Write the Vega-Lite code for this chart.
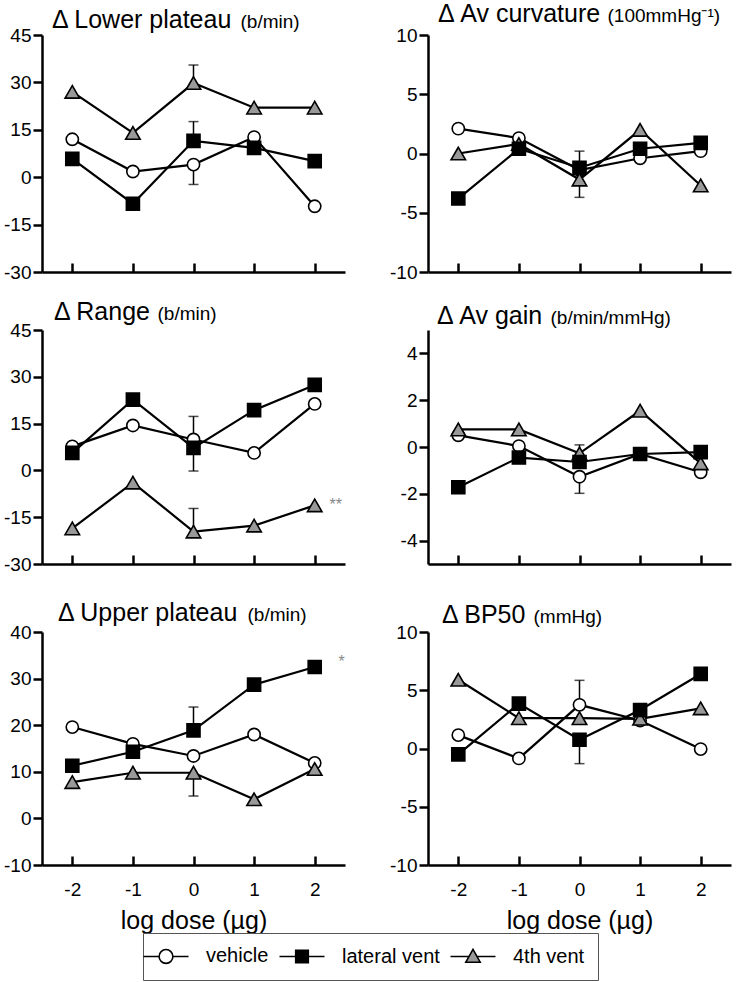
{
  "$schema": "https://vega.github.io/schema/vega-lite/v6.json",
  "padding": {"left": 3, "top": 2, "right": 5, "bottom": 0},
  "datasets": {
    "pts": [
      {"panel": "lower", "group": "vehicle", "dose": -2, "value": 12},
      {"panel": "lower", "group": "vehicle", "dose": -1, "value": 1.8},
      {"panel": "lower", "group": "vehicle", "dose": 0, "value": 4},
      {"panel": "lower", "group": "vehicle", "dose": 1, "value": 12.7},
      {"panel": "lower", "group": "vehicle", "dose": 2, "value": -9.2},
      {"panel": "lower", "group": "4th vent", "dose": -2, "value": 27},
      {"panel": "lower", "group": "4th vent", "dose": -1, "value": 14},
      {"panel": "lower", "group": "4th vent", "dose": 0, "value": 29.8},
      {"panel": "lower", "group": "4th vent", "dose": 1, "value": 22},
      {"panel": "lower", "group": "4th vent", "dose": 2, "value": 22},
      {"panel": "lower", "group": "lateral vent", "dose": -2, "value": 5.8},
      {"panel": "lower", "group": "lateral vent", "dose": -1, "value": -8.4},
      {"panel": "lower", "group": "lateral vent", "dose": 0, "value": 11.5},
      {"panel": "lower", "group": "lateral vent", "dose": 1, "value": 9.3},
      {"panel": "lower", "group": "lateral vent", "dose": 2, "value": 5.1},

      {"panel": "curv", "group": "vehicle", "dose": -2, "value": 2.1},
      {"panel": "curv", "group": "vehicle", "dose": -1, "value": 1.3},
      {"panel": "curv", "group": "vehicle", "dose": 0, "value": -1.4},
      {"panel": "curv", "group": "vehicle", "dose": 1, "value": -0.4},
      {"panel": "curv", "group": "vehicle", "dose": 2, "value": 0.2},
      {"panel": "curv", "group": "4th vent", "dose": -2, "value": 0},
      {"panel": "curv", "group": "4th vent", "dose": -1, "value": 0.8},
      {"panel": "curv", "group": "4th vent", "dose": 0, "value": -2.2},
      {"panel": "curv", "group": "4th vent", "dose": 1, "value": 2.0},
      {"panel": "curv", "group": "4th vent", "dose": 2, "value": -2.7},
      {"panel": "curv", "group": "lateral vent", "dose": -2, "value": -3.8},
      {"panel": "curv", "group": "lateral vent", "dose": -1, "value": 0.4},
      {"panel": "curv", "group": "lateral vent", "dose": 0, "value": -1.2},
      {"panel": "curv", "group": "lateral vent", "dose": 1, "value": 0.4},
      {"panel": "curv", "group": "lateral vent", "dose": 2, "value": 0.9},

      {"panel": "range", "group": "vehicle", "dose": -2, "value": 7.7},
      {"panel": "range", "group": "vehicle", "dose": -1, "value": 14.4},
      {"panel": "range", "group": "vehicle", "dose": 0, "value": 9.9},
      {"panel": "range", "group": "vehicle", "dose": 1, "value": 5.6},
      {"panel": "range", "group": "vehicle", "dose": 2, "value": 21.3},
      {"panel": "range", "group": "4th vent", "dose": -2, "value": -18.6},
      {"panel": "range", "group": "4th vent", "dose": -1, "value": -3.9},
      {"panel": "range", "group": "4th vent", "dose": 0, "value": -19.6},
      {"panel": "range", "group": "4th vent", "dose": 1, "value": -17.7},
      {"panel": "range", "group": "4th vent", "dose": 2, "value": -11.2},
      {"panel": "range", "group": "lateral vent", "dose": -2, "value": 5.6},
      {"panel": "range", "group": "lateral vent", "dose": -1, "value": 22.7},
      {"panel": "range", "group": "lateral vent", "dose": 0, "value": 7.2},
      {"panel": "range", "group": "lateral vent", "dose": 1, "value": 19.3},
      {"panel": "range", "group": "lateral vent", "dose": 2, "value": 27.4},

      {"panel": "gain", "group": "vehicle", "dose": -2, "value": 0.5},
      {"panel": "gain", "group": "vehicle", "dose": -1, "value": 0.04},
      {"panel": "gain", "group": "vehicle", "dose": 0, "value": -1.27},
      {"panel": "gain", "group": "vehicle", "dose": 1, "value": -0.3},
      {"panel": "gain", "group": "vehicle", "dose": 2, "value": -1.08},
      {"panel": "gain", "group": "4th vent", "dose": -2, "value": 0.75},
      {"panel": "gain", "group": "4th vent", "dose": -1, "value": 0.75},
      {"panel": "gain", "group": "4th vent", "dose": 0, "value": -0.27},
      {"panel": "gain", "group": "4th vent", "dose": 1, "value": 1.55},
      {"panel": "gain", "group": "4th vent", "dose": 2, "value": -0.7},
      {"panel": "gain", "group": "lateral vent", "dose": -2, "value": -1.72},
      {"panel": "gain", "group": "lateral vent", "dose": -1, "value": -0.45},
      {"panel": "gain", "group": "lateral vent", "dose": 0, "value": -0.64},
      {"panel": "gain", "group": "lateral vent", "dose": 1, "value": -0.3},
      {"panel": "gain", "group": "lateral vent", "dose": 2, "value": -0.22},

      {"panel": "upper", "group": "vehicle", "dose": -2, "value": 19.6},
      {"panel": "upper", "group": "vehicle", "dose": -1, "value": 16.0},
      {"panel": "upper", "group": "vehicle", "dose": 0, "value": 13.4},
      {"panel": "upper", "group": "vehicle", "dose": 1, "value": 18.0},
      {"panel": "upper", "group": "vehicle", "dose": 2, "value": 11.9},
      {"panel": "upper", "group": "4th vent", "dose": -2, "value": 7.8},
      {"panel": "upper", "group": "4th vent", "dose": -1, "value": 9.8},
      {"panel": "upper", "group": "4th vent", "dose": 0, "value": 9.8},
      {"panel": "upper", "group": "4th vent", "dose": 1, "value": 4.1},
      {"panel": "upper", "group": "4th vent", "dose": 2, "value": 10.6},
      {"panel": "upper", "group": "lateral vent", "dose": -2, "value": 11.3},
      {"panel": "upper", "group": "lateral vent", "dose": -1, "value": 14.3},
      {"panel": "upper", "group": "lateral vent", "dose": 0, "value": 18.9},
      {"panel": "upper", "group": "lateral vent", "dose": 1, "value": 28.7},
      {"panel": "upper", "group": "lateral vent", "dose": 2, "value": 32.5},

      {"panel": "bp50", "group": "vehicle", "dose": -2, "value": 1.15},
      {"panel": "bp50", "group": "vehicle", "dose": -1, "value": -0.85},
      {"panel": "bp50", "group": "vehicle", "dose": 0, "value": 3.75},
      {"panel": "bp50", "group": "vehicle", "dose": 1, "value": 2.4},
      {"panel": "bp50", "group": "vehicle", "dose": 2, "value": -0.05},
      {"panel": "bp50", "group": "4th vent", "dose": -2, "value": 5.9},
      {"panel": "bp50", "group": "4th vent", "dose": -1, "value": 2.6},
      {"panel": "bp50", "group": "4th vent", "dose": 0, "value": 2.6},
      {"panel": "bp50", "group": "4th vent", "dose": 1, "value": 2.55},
      {"panel": "bp50", "group": "4th vent", "dose": 2, "value": 3.45},
      {"panel": "bp50", "group": "lateral vent", "dose": -2, "value": -0.5},
      {"panel": "bp50", "group": "lateral vent", "dose": -1, "value": 3.85},
      {"panel": "bp50", "group": "lateral vent", "dose": 0, "value": 0.75},
      {"panel": "bp50", "group": "lateral vent", "dose": 1, "value": 3.3},
      {"panel": "bp50", "group": "lateral vent", "dose": 2, "value": 6.4}
    ],
    "err": [
      {"panel": "lower", "group": "lateral vent", "dose": 0, "value": 11.5, "end": 17.6},
      {"panel": "lower", "group": "4th vent", "dose": 0, "value": 29.8, "end": 35.5},
      {"panel": "lower", "group": "vehicle", "dose": 0, "value": 4, "end": -2.3},
      {"panel": "curv", "group": "lateral vent", "dose": 0, "value": -1.2, "end": 0.2},
      {"panel": "curv", "group": "4th vent", "dose": 0, "value": -2.2, "end": -3.7},
      {"panel": "range", "group": "vehicle", "dose": 0, "value": 9.9, "end": 17.3},
      {"panel": "range", "group": "lateral vent", "dose": 0, "value": 7.2, "end": -0.2},
      {"panel": "range", "group": "4th vent", "dose": 0, "value": -19.6, "end": -12.2},
      {"panel": "gain", "group": "4th vent", "dose": 0, "value": -0.27, "end": 0.09},
      {"panel": "gain", "group": "vehicle", "dose": 0, "value": -1.27, "end": -1.98},
      {"panel": "upper", "group": "lateral vent", "dose": 0, "value": 18.9, "end": 23.9},
      {"panel": "upper", "group": "4th vent", "dose": 0, "value": 9.8, "end": 4.8},
      {"panel": "bp50", "group": "vehicle", "dose": 0, "value": 3.75, "end": 5.85},
      {"panel": "bp50", "group": "lateral vent", "dose": 0, "value": 0.75, "end": -1.3}
    ],
    "ann": [
      {"panel": "range", "dose": 2, "value": -11.2, "label": "**"},
      {"panel": "upper", "dose": 2, "value": 32.5, "label": "*"}
    ]
  },
  "spacing": 27,
  "vconcat": [
    {
      "columns": 2,
      "spacing": {"row": 58, "column": 83},
      "bounds": "flush",
      "concat": [
        {
          "width": 303, "height": 237,
          "title": {"text": "Δ Lower plateau", "dx": 10},
          "encoding": {
            "x": {"field": "dose", "type": "quantitative", "scale": {"domain": [-2.5, 2.5], "nice": false}, "axis": {"values": [-2, -1, 0, 1, 2], "labels": false, "title": null}},
            "y": {"field": "value", "type": "quantitative", "scale": {"domain": [-30, 45], "nice": false, "zero": false}, "axis": {"values": [-30, -15, 0, 15, 30, 45], "labelExpr": "'' + datum.value", "title": "(b/min)", "titleX": 198, "titleY": -8}}
          },
          "layer": [
            {"data": {"name": "err"}, "transform": [{"filter": "datum.panel === 'lower'"}], "mark": {"type": "rule", "color": "black", "strokeWidth": 1.5}, "encoding": {"y2": {"field": "end"}}},
            {"data": {"name": "err"}, "transform": [{"filter": "datum.panel === 'lower'"}], "mark": {"type": "tick", "color": "black", "thickness": 1.5, "size": 10, "orient": "horizontal"}, "encoding": {"y": {"field": "end", "type": "quantitative", "scale": {"domain": [-30, 45], "nice": false, "zero": false}}}},
            {"data": {"name": "pts"}, "transform": [{"filter": "datum.panel === 'lower'"}], "mark": {"type": "line", "color": "black", "strokeWidth": 2.2}, "encoding": {"detail": {"field": "group", "type": "nominal"}}},
            {"data": {"name": "pts"}, "transform": [{"filter": "datum.panel === 'lower'"}], "mark": {"type": "point", "filled": true, "stroke": "black", "strokeWidth": 1.6, "opacity": 1},
              "encoding": {
                "shape": {"condition": [{"test": "datum.group === 'vehicle'", "value": "circle"}, {"test": "datum.group === 'lateral vent'", "value": "square"}], "value": "triangle-up"},
                "fill": {"condition": [{"test": "datum.group === 'vehicle'", "value": "white"}, {"test": "datum.group === 'lateral vent'", "value": "black"}], "value": "#999999"},
                "size": {"condition": [{"test": "datum.group === 'vehicle'", "value": 150}, {"test": "datum.group === 'lateral vent'", "value": 170}], "value": 210}
              }}
          ]
        },
        {
          "width": 303, "height": 237,
          "title": {"text": "Δ Av curvature", "dx": 10},
          "encoding": {
            "x": {"field": "dose", "type": "quantitative", "scale": {"domain": [-2.5, 2.5], "nice": false}, "axis": {"values": [-2, -1, 0, 1, 2], "labels": false, "title": null}},
            "y": {"field": "value", "type": "quantitative", "scale": {"domain": [-10, 10], "nice": false, "zero": false}, "axis": {"values": [-10, -5, 0, 5, 10], "labelExpr": "'' + datum.value", "title": "(100mmHg⁻¹)", "titleX": 179, "titleY": -14}}
          },
          "layer": [
            {"data": {"name": "err"}, "transform": [{"filter": "datum.panel === 'curv'"}], "mark": {"type": "rule", "color": "black", "strokeWidth": 1.5}, "encoding": {"y2": {"field": "end"}}},
            {"data": {"name": "err"}, "transform": [{"filter": "datum.panel === 'curv'"}], "mark": {"type": "tick", "color": "black", "thickness": 1.5, "size": 10, "orient": "horizontal"}, "encoding": {"y": {"field": "end", "type": "quantitative", "scale": {"domain": [-10, 10], "nice": false, "zero": false}}}},
            {"data": {"name": "pts"}, "transform": [{"filter": "datum.panel === 'curv'"}], "mark": {"type": "line", "color": "black", "strokeWidth": 2.2}, "encoding": {"detail": {"field": "group", "type": "nominal"}}},
            {"data": {"name": "pts"}, "transform": [{"filter": "datum.panel === 'curv'"}], "mark": {"type": "point", "filled": true, "stroke": "black", "strokeWidth": 1.6, "opacity": 1},
              "encoding": {
                "shape": {"condition": [{"test": "datum.group === 'vehicle'", "value": "circle"}, {"test": "datum.group === 'lateral vent'", "value": "square"}], "value": "triangle-up"},
                "fill": {"condition": [{"test": "datum.group === 'vehicle'", "value": "white"}, {"test": "datum.group === 'lateral vent'", "value": "black"}], "value": "#999999"},
                "size": {"condition": [{"test": "datum.group === 'vehicle'", "value": 150}, {"test": "datum.group === 'lateral vent'", "value": 170}], "value": 210}
              }}
          ]
        },
        {
          "width": 303, "height": 234,
          "title": {"text": "Δ Range", "dx": 12},
          "encoding": {
            "x": {"field": "dose", "type": "quantitative", "scale": {"domain": [-2.5, 2.5], "nice": false}, "axis": {"values": [-2, -1, 0, 1, 2], "labels": false, "title": null}},
            "y": {"field": "value", "type": "quantitative", "scale": {"domain": [-30, 45], "nice": false, "zero": false}, "axis": {"values": [-30, -15, 0, 15, 30, 45], "labelExpr": "'' + datum.value", "title": "(b/min)", "titleX": 115, "titleY": -11}}
          },
          "layer": [
            {"data": {"name": "err"}, "transform": [{"filter": "datum.panel === 'range'"}], "mark": {"type": "rule", "color": "black", "strokeWidth": 1.5}, "encoding": {"y2": {"field": "end"}}},
            {"data": {"name": "err"}, "transform": [{"filter": "datum.panel === 'range'"}], "mark": {"type": "tick", "color": "black", "thickness": 1.5, "size": 10, "orient": "horizontal"}, "encoding": {"y": {"field": "end", "type": "quantitative", "scale": {"domain": [-30, 45], "nice": false, "zero": false}}}},
            {"data": {"name": "pts"}, "transform": [{"filter": "datum.panel === 'range'"}], "mark": {"type": "line", "color": "black", "strokeWidth": 2.2}, "encoding": {"detail": {"field": "group", "type": "nominal"}}},
            {"data": {"name": "pts"}, "transform": [{"filter": "datum.panel === 'range'"}], "mark": {"type": "point", "filled": true, "stroke": "black", "strokeWidth": 1.6, "opacity": 1},
              "encoding": {
                "shape": {"condition": [{"test": "datum.group === 'vehicle'", "value": "circle"}, {"test": "datum.group === 'lateral vent'", "value": "square"}], "value": "triangle-up"},
                "fill": {"condition": [{"test": "datum.group === 'vehicle'", "value": "white"}, {"test": "datum.group === 'lateral vent'", "value": "black"}], "value": "#999999"},
                "size": {"condition": [{"test": "datum.group === 'vehicle'", "value": 150}, {"test": "datum.group === 'lateral vent'", "value": 170}], "value": 210}
              }},
            {"data": {"name": "ann"}, "transform": [{"filter": "datum.panel === 'range'"}], "mark": {"type": "text", "color": "#888888", "fontSize": 16, "dx": 21, "dy": 0}, "encoding": {"text": {"field": "label"}}}
          ]
        },
        {
          "width": 303, "height": 234,
          "title": {"text": "Δ Av gain", "dx": 9},
          "encoding": {
            "x": {"field": "dose", "type": "quantitative", "scale": {"domain": [-2.5, 2.5], "nice": false}, "axis": {"values": [-2, -1, 0, 1, 2], "labels": false, "title": null}},
            "y": {"field": "value", "type": "quantitative", "scale": {"domain": [-5, 5], "nice": false, "zero": false}, "axis": {"values": [-4, -2, 0, 2, 4], "labelExpr": "'' + datum.value", "title": "(b/min/mmHg)", "titleX": 122, "titleY": -7}}
          },
          "layer": [
            {"data": {"name": "err"}, "transform": [{"filter": "datum.panel === 'gain'"}], "mark": {"type": "rule", "color": "black", "strokeWidth": 1.5}, "encoding": {"y2": {"field": "end"}}},
            {"data": {"name": "err"}, "transform": [{"filter": "datum.panel === 'gain'"}], "mark": {"type": "tick", "color": "black", "thickness": 1.5, "size": 10, "orient": "horizontal"}, "encoding": {"y": {"field": "end", "type": "quantitative", "scale": {"domain": [-5, 5], "nice": false, "zero": false}}}},
            {"data": {"name": "pts"}, "transform": [{"filter": "datum.panel === 'gain'"}], "mark": {"type": "line", "color": "black", "strokeWidth": 2.2}, "encoding": {"detail": {"field": "group", "type": "nominal"}}},
            {"data": {"name": "pts"}, "transform": [{"filter": "datum.panel === 'gain'"}], "mark": {"type": "point", "filled": true, "stroke": "black", "strokeWidth": 1.6, "opacity": 1},
              "encoding": {
                "shape": {"condition": [{"test": "datum.group === 'vehicle'", "value": "circle"}, {"test": "datum.group === 'lateral vent'", "value": "square"}], "value": "triangle-up"},
                "fill": {"condition": [{"test": "datum.group === 'vehicle'", "value": "white"}, {"test": "datum.group === 'lateral vent'", "value": "black"}], "value": "#999999"},
                "size": {"condition": [{"test": "datum.group === 'vehicle'", "value": 150}, {"test": "datum.group === 'lateral vent'", "value": 170}], "value": 210}
              }}
          ]
        }
      ]
    },
    {
      "spacing": 83,
      "bounds": "flush",
      "hconcat": [
        {
          "width": 303, "height": 233,
          "title": {"text": "Δ Upper plateau", "dx": 16},
          "encoding": {
            "x": {"field": "dose", "type": "quantitative", "scale": {"domain": [-2.5, 2.5], "nice": false}, "axis": {"values": [-2, -1, 0, 1, 2], "labelExpr": "'' + datum.value", "title": "log dose (µg)"}},
            "y": {"field": "value", "type": "quantitative", "scale": {"domain": [-10, 40], "nice": false, "zero": false}, "axis": {"values": [-10, 0, 10, 20, 30, 40], "labelExpr": "'' + datum.value", "title": "(b/min)", "titleX": 205, "titleY": -12}}
          },
          "layer": [
            {"data": {"name": "err"}, "transform": [{"filter": "datum.panel === 'upper'"}], "mark": {"type": "rule", "color": "black", "strokeWidth": 1.5}, "encoding": {"y2": {"field": "end"}}},
            {"data": {"name": "err"}, "transform": [{"filter": "datum.panel === 'upper'"}], "mark": {"type": "tick", "color": "black", "thickness": 1.5, "size": 10, "orient": "horizontal"}, "encoding": {"y": {"field": "end", "type": "quantitative", "scale": {"domain": [-10, 40], "nice": false, "zero": false}}}},
            {"data": {"name": "pts"}, "transform": [{"filter": "datum.panel === 'upper'"}], "mark": {"type": "line", "color": "black", "strokeWidth": 2.2}, "encoding": {"detail": {"field": "group", "type": "nominal"}}},
            {"data": {"name": "pts"}, "transform": [{"filter": "datum.panel === 'upper'"}], "mark": {"type": "point", "filled": true, "stroke": "black", "strokeWidth": 1.6, "opacity": 1},
              "encoding": {
                "shape": {"condition": [{"test": "datum.group === 'vehicle'", "value": "circle"}, {"test": "datum.group === 'lateral vent'", "value": "square"}], "value": "triangle-up"},
                "fill": {"condition": [{"test": "datum.group === 'vehicle'", "value": "white"}, {"test": "datum.group === 'lateral vent'", "value": "black"}], "value": "#999999"},
                "size": {"condition": [{"test": "datum.group === 'vehicle'", "value": 150}, {"test": "datum.group === 'lateral vent'", "value": 170}], "value": 210}
              }},
            {"data": {"name": "ann"}, "transform": [{"filter": "datum.panel === 'upper'"}], "mark": {"type": "text", "color": "#888888", "fontSize": 16, "dx": 27, "dy": -5}, "encoding": {"text": {"field": "label"}}},
            {"data": {"name": "pts"}, "transform": [{"filter": "false"}], "mark": {"type": "point", "filled": true, "strokeWidth": 1.6, "size": 144, "opacity": 1},
              "encoding": {
                "shape": {"field": "group", "type": "nominal",
                  "scale": {"domain": ["vehicle", "lateral vent", "4th vent"], "range": [
                    "M-3.75,0H-1.15M1.15,0H3.75M1.15,0A1.15,1.15,0,1,1,-1.15,0A1.15,1.15,0,1,1,1.15,0Z",
                    "M-3.75,0H-1.05M1.05,0H3.75M-1.05,-1.05H1.05V1.05H-1.05Z",
                    "M-3.75,0H-0.67M0.67,0H3.75M0,-1.2L1.2,0.95H-1.2Z"]},
                  "legend": {"orient": "none", "legendX": 101, "legendY": 898, "direction": "horizontal", "title": null}},
                "fill": {"field": "group", "type": "nominal",
                  "scale": {"domain": ["vehicle", "lateral vent", "4th vent"], "range": ["white", "black", "#999999"]},
                  "legend": {"orient": "none", "legendX": 101, "legendY": 898, "direction": "horizontal", "title": null}},
                "stroke": {"field": "group", "type": "nominal",
                  "scale": {"domain": ["vehicle", "lateral vent", "4th vent"], "range": ["black", "black", "black"]},
                  "legend": {"orient": "none", "legendX": 101, "legendY": 898, "direction": "horizontal", "title": null}}
              }}
          ]
        },
        {
          "width": 303, "height": 233,
          "title": {"text": "Δ BP50", "dx": 14},
          "encoding": {
            "x": {"field": "dose", "type": "quantitative", "scale": {"domain": [-2.5, 2.5], "nice": false}, "axis": {"values": [-2, -1, 0, 1, 2], "labelExpr": "'' + datum.value", "title": "log dose (µg)"}},
            "y": {"field": "value", "type": "quantitative", "scale": {"domain": [-10, 10], "nice": false, "zero": false}, "axis": {"values": [-10, -5, 0, 5, 10], "labelExpr": "'' + datum.value", "title": "(mmHg)", "titleX": 105, "titleY": -10}}
          },
          "layer": [
            {"data": {"name": "err"}, "transform": [{"filter": "datum.panel === 'bp50'"}], "mark": {"type": "rule", "color": "black", "strokeWidth": 1.5}, "encoding": {"y2": {"field": "end"}}},
            {"data": {"name": "err"}, "transform": [{"filter": "datum.panel === 'bp50'"}], "mark": {"type": "tick", "color": "black", "thickness": 1.5, "size": 10, "orient": "horizontal"}, "encoding": {"y": {"field": "end", "type": "quantitative", "scale": {"domain": [-10, 10], "nice": false, "zero": false}}}},
            {"data": {"name": "pts"}, "transform": [{"filter": "datum.panel === 'bp50'"}], "mark": {"type": "line", "color": "black", "strokeWidth": 2.2}, "encoding": {"detail": {"field": "group", "type": "nominal"}}},
            {"data": {"name": "pts"}, "transform": [{"filter": "datum.panel === 'bp50'"}], "mark": {"type": "point", "filled": true, "stroke": "black", "strokeWidth": 1.6, "opacity": 1},
              "encoding": {
                "shape": {"condition": [{"test": "datum.group === 'vehicle'", "value": "circle"}, {"test": "datum.group === 'lateral vent'", "value": "square"}], "value": "triangle-up"},
                "fill": {"condition": [{"test": "datum.group === 'vehicle'", "value": "white"}, {"test": "datum.group === 'lateral vent'", "value": "black"}], "value": "#999999"},
                "size": {"condition": [{"test": "datum.group === 'vehicle'", "value": 150}, {"test": "datum.group === 'lateral vent'", "value": 170}], "value": 210}
              }}
          ]
        }
      ]
    }
  ],
  "config": {
    "font": "Liberation Sans",
    "view": {"stroke": null},
    "axis": {"domainColor": "black", "domainWidth": 2.5, "tickColor": "black", "tickWidth": 2.5, "grid": false, "labelFontSize": 19, "labelColor": "black", "labelFont": "Liberation Sans", "titleColor": "black", "titleFontWeight": "normal", "titleFont": "Liberation Sans"},
    "axisY": {"tickSize": 9, "labelPadding": 2, "titleAngle": 0, "titleAlign": "left", "titleBaseline": "alphabetic", "titleFontSize": 19},
    "axisX": {"tickSize": -9, "labelPadding": 24, "labelFlush": false, "titleFontSize": 25, "titlePadding": 9},
    "title": {"font": "Liberation Sans", "fontSize": 25, "fontWeight": "normal", "anchor": "start", "frame": "group", "color": "black", "baseline": "alphabetic", "offset": 0, "dy": 25},
    "legend": {"strokeColor": "#555555", "fillColor": "white", "padding": 13, "labelFontSize": 20, "labelFont": "Liberation Sans", "labelColor": "black", "symbolStrokeWidth": 1.6, "symbolSize": 144, "labelOffset": 30, "columnPadding": 7}
  }
}
